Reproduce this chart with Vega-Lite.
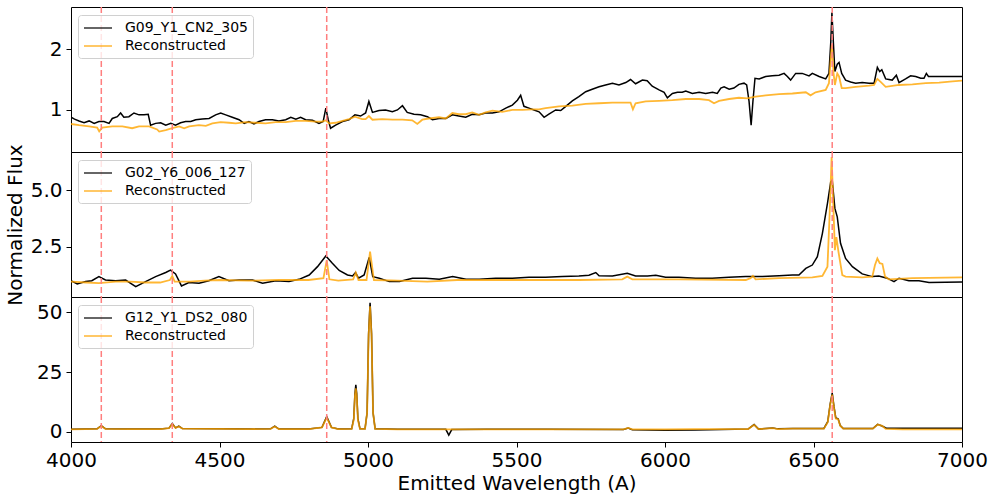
{
"$schema": "https://vega.github.io/schema/vega-lite/v6.json",
"background": "white",
"padding": {"left": 4, "top": 5, "right": 0, "bottom": 0},
"datasets": {
"hl": [{"w":4102},{"w":4341},{"w":4861},{"w":6563}],
"p1obs": [{"w":4000,"f":0.88},{"w":4012,"f":0.85},{"w":4027,"f":0.82},{"w":4044,"f":0.79},{"w":4061,"f":0.82},{"w":4078,"f":0.78},{"w":4094,"f":0.81},{"w":4111,"f":0.81},{"w":4128,"f":0.78},{"w":4139,"f":0.86},{"w":4156,"f":0.89},{"w":4167,"f":0.95},{"w":4178,"f":0.88},{"w":4195,"f":0.89},{"w":4212,"f":0.95},{"w":4229,"f":0.92},{"w":4246,"f":0.92},{"w":4260,"f":0.93},{"w":4268,"f":0.75},{"w":4285,"f":0.78},{"w":4302,"f":0.79},{"w":4319,"f":0.75},{"w":4336,"f":0.78},{"w":4352,"f":0.75},{"w":4369,"f":0.79},{"w":4386,"f":0.81},{"w":4403,"f":0.81},{"w":4420,"f":0.84},{"w":4442,"f":0.85},{"w":4465,"f":0.86},{"w":4487,"f":0.92},{"w":4504,"f":0.95},{"w":4521,"f":0.92},{"w":4543,"f":0.88},{"w":4566,"f":0.84},{"w":4583,"f":0.78},{"w":4599,"f":0.81},{"w":4616,"f":0.77},{"w":4633,"f":0.81},{"w":4655,"f":0.84},{"w":4678,"f":0.84},{"w":4700,"f":0.82},{"w":4723,"f":0.84},{"w":4740,"f":0.88},{"w":4757,"f":0.85},{"w":4773,"f":0.88},{"w":4790,"f":0.84},{"w":4813,"f":0.83},{"w":4835,"f":0.78},{"w":4849,"f":0.81},{"w":4858,"f":1.03},{"w":4866,"f":0.84},{"w":4874,"f":0.70},{"w":4891,"f":0.75},{"w":4914,"f":0.81},{"w":4936,"f":0.84},{"w":4956,"f":0.92},{"w":4975,"f":0.90},{"w":4992,"f":0.95},{"w":5003,"f":1.14},{"w":5015,"f":0.96},{"w":5037,"f":0.99},{"w":5059,"f":1.0},{"w":5082,"f":0.97},{"w":5099,"f":1.0},{"w":5116,"f":1.07},{"w":5132,"f":0.96},{"w":5155,"f":0.93},{"w":5177,"f":0.92},{"w":5200,"f":0.89},{"w":5217,"f":0.84},{"w":5239,"f":0.86},{"w":5262,"f":0.86},{"w":5284,"f":0.92},{"w":5306,"f":0.90},{"w":5329,"f":0.88},{"w":5351,"f":0.93},{"w":5374,"f":0.92},{"w":5396,"f":0.95},{"w":5419,"f":0.95},{"w":5441,"f":0.97},{"w":5464,"f":1.03},{"w":5486,"f":1.08},{"w":5503,"f":1.16},{"w":5514,"f":1.24},{"w":5525,"f":1.06},{"w":5542,"f":1.03},{"w":5559,"f":1.0},{"w":5576,"f":0.97},{"w":5593,"f":0.88},{"w":5609,"f":0.93},{"w":5632,"f":1.0},{"w":5649,"f":0.99},{"w":5666,"f":1.06},{"w":5688,"f":1.15},{"w":5710,"f":1.22},{"w":5733,"f":1.30},{"w":5755,"f":1.34},{"w":5778,"f":1.38},{"w":5800,"f":1.41},{"w":5823,"f":1.44},{"w":5845,"f":1.41},{"w":5868,"f":1.45},{"w":5884,"f":1.50},{"w":5901,"f":1.43},{"w":5924,"f":1.49},{"w":5940,"f":1.48},{"w":5957,"f":1.39},{"w":5980,"f":1.33},{"w":5997,"f":1.29},{"w":6008,"f":1.20},{"w":6025,"f":1.27},{"w":6042,"f":1.29},{"w":6058,"f":1.29},{"w":6070,"f":1.31},{"w":6092,"f":1.27},{"w":6115,"f":1.29},{"w":6137,"f":1.27},{"w":6160,"f":1.29},{"w":6176,"f":1.27},{"w":6188,"f":1.36},{"w":6199,"f":1.38},{"w":6216,"f":1.34},{"w":6232,"f":1.36},{"w":6249,"f":1.42},{"w":6266,"f":1.44},{"w":6275,"f":1.41},{"w":6283,"f":1.14},{"w":6290,"f":0.75},{"w":6296,"f":1.14},{"w":6303,"f":1.52},{"w":6317,"f":1.51},{"w":6339,"f":1.55},{"w":6361,"f":1.56},{"w":6384,"f":1.57},{"w":6401,"f":1.60},{"w":6412,"f":1.55},{"w":6423,"f":1.49},{"w":6440,"f":1.60},{"w":6462,"f":1.60},{"w":6485,"f":1.56},{"w":6496,"f":1.60},{"w":6519,"f":1.55},{"w":6541,"f":1.51},{"w":6552,"f":1.60},{"w":6558,"f":2.10},{"w":6562,"f":2.60},{"w":6567,"f":2.10},{"w":6572,"f":1.63},{"w":6580,"f":1.75},{"w":6586,"f":1.78},{"w":6595,"f":1.60},{"w":6608,"f":1.49},{"w":6625,"f":1.46},{"w":6642,"f":1.44},{"w":6664,"f":1.45},{"w":6687,"f":1.44},{"w":6704,"f":1.44},{"w":6715,"f":1.70},{"w":6723,"f":1.63},{"w":6730,"f":1.66},{"w":6743,"f":1.51},{"w":6765,"f":1.49},{"w":6779,"f":1.57},{"w":6788,"f":1.45},{"w":6810,"f":1.51},{"w":6827,"f":1.56},{"w":6844,"f":1.55},{"w":6861,"f":1.52},{"w":6872,"f":1.52},{"w":6880,"f":1.60},{"w":6887,"f":1.55},{"w":7000,"f":1.55}],
"p1rec": [{"w":4000,"f":0.77},{"w":4027,"f":0.75},{"w":4061,"f":0.73},{"w":4088,"f":0.71},{"w":4095,"f":0.65},{"w":4105,"f":0.71},{"w":4139,"f":0.73},{"w":4173,"f":0.73},{"w":4206,"f":0.70},{"w":4229,"f":0.73},{"w":4263,"f":0.73},{"w":4290,"f":0.68},{"w":4297,"f":0.645},{"w":4319,"f":0.67},{"w":4341,"f":0.70},{"w":4364,"f":0.73},{"w":4381,"f":0.70},{"w":4398,"f":0.73},{"w":4431,"f":0.75},{"w":4454,"f":0.74},{"w":4476,"f":0.78},{"w":4504,"f":0.80},{"w":4532,"f":0.79},{"w":4555,"f":0.78},{"w":4588,"f":0.80},{"w":4622,"f":0.79},{"w":4655,"f":0.78},{"w":4689,"f":0.80},{"w":4723,"f":0.80},{"w":4757,"f":0.82},{"w":4790,"f":0.82},{"w":4824,"f":0.81},{"w":4846,"f":0.81},{"w":4858,"f":0.83},{"w":4869,"f":0.78},{"w":4891,"f":0.79},{"w":4914,"f":0.82},{"w":4936,"f":0.85},{"w":4956,"f":0.89},{"w":4980,"f":0.85},{"w":4992,"f":0.85},{"w":5003,"f":0.90},{"w":5015,"f":0.84},{"w":5048,"f":0.85},{"w":5082,"f":0.84},{"w":5116,"f":0.84},{"w":5149,"f":0.83},{"w":5166,"f":0.77},{"w":5183,"f":0.84},{"w":5205,"f":0.86},{"w":5239,"f":0.88},{"w":5262,"f":0.86},{"w":5284,"f":0.95},{"w":5306,"f":0.93},{"w":5329,"f":0.93},{"w":5351,"f":0.96},{"w":5374,"f":0.92},{"w":5396,"f":0.96},{"w":5419,"f":0.99},{"w":5452,"f":0.97},{"w":5486,"f":1.0},{"w":5520,"f":1.0},{"w":5553,"f":1.01},{"w":5576,"f":1.01},{"w":5598,"f":1.03},{"w":5643,"f":1.06},{"w":5688,"f":1.07},{"w":5733,"f":1.10},{"w":5778,"f":1.11},{"w":5823,"f":1.12},{"w":5868,"f":1.12},{"w":5884,"f":1.12},{"w":5892,"f":1.01},{"w":5901,"f":1.11},{"w":5935,"f":1.14},{"w":5980,"f":1.15},{"w":6025,"f":1.16},{"w":6070,"f":1.18},{"w":6115,"f":1.18},{"w":6148,"f":1.16},{"w":6165,"f":1.11},{"w":6182,"f":1.15},{"w":6216,"f":1.18},{"w":6249,"f":1.20},{"w":6277,"f":1.19},{"w":6305,"f":1.22},{"w":6339,"f":1.24},{"w":6384,"f":1.26},{"w":6429,"f":1.27},{"w":6474,"f":1.29},{"w":6490,"f":1.24},{"w":6507,"f":1.29},{"w":6541,"f":1.33},{"w":6552,"f":1.44},{"w":6559,"f":1.90},{"w":6562,"f":2.07},{"w":6567,"f":1.63},{"w":6572,"f":1.41},{"w":6580,"f":1.60},{"w":6586,"f":1.55},{"w":6595,"f":1.36},{"w":6608,"f":1.36},{"w":6642,"f":1.38},{"w":6687,"f":1.40},{"w":6704,"f":1.41},{"w":6715,"f":1.51},{"w":6726,"f":1.46},{"w":6743,"f":1.38},{"w":6788,"f":1.41},{"w":6833,"f":1.42},{"w":6878,"f":1.44},{"w":6923,"f":1.45},{"w":6968,"f":1.47},{"w":7000,"f":1.48}],
"p2obs": [{"w":4000,"f":1.0},{"w":4021,"f":0.86},{"w":4049,"f":0.96},{"w":4070,"f":1.0},{"w":4094,"f":1.18},{"w":4116,"f":1.03},{"w":4150,"f":1.0},{"w":4184,"f":1.03},{"w":4218,"f":0.74},{"w":4251,"f":0.96},{"w":4285,"f":1.18},{"w":4319,"f":1.36},{"w":4335,"f":1.47},{"w":4352,"f":1.30},{"w":4372,"f":0.77},{"w":4397,"f":0.92},{"w":4431,"f":0.89},{"w":4464,"f":1.0},{"w":4498,"f":1.18},{"w":4532,"f":1.0},{"w":4566,"f":1.03},{"w":4611,"f":1.03},{"w":4645,"f":0.89},{"w":4690,"f":1.0},{"w":4734,"f":0.96},{"w":4768,"f":1.06},{"w":4802,"f":1.25},{"w":4830,"f":1.62},{"w":4858,"f":2.09},{"w":4880,"f":1.77},{"w":4903,"f":1.45},{"w":4931,"f":1.25},{"w":4948,"f":1.21},{"w":4958,"f":1.36},{"w":4968,"f":1.11},{"w":4987,"f":1.25},{"w":5004,"f":2.03},{"w":5016,"f":1.18},{"w":5038,"f":1.11},{"w":5072,"f":0.96},{"w":5106,"f":0.96},{"w":5150,"f":1.11},{"w":5195,"f":1.11},{"w":5240,"f":1.06},{"w":5285,"f":1.18},{"w":5330,"f":1.06},{"w":5374,"f":1.06},{"w":5430,"f":1.11},{"w":5486,"f":1.11},{"w":5542,"f":1.15},{"w":5598,"f":1.15},{"w":5654,"f":1.18},{"w":5710,"f":1.21},{"w":5744,"f":1.24},{"w":5767,"f":1.36},{"w":5778,"f":1.22},{"w":5823,"f":1.21},{"w":5873,"f":1.33},{"w":5901,"f":1.21},{"w":5941,"f":1.21},{"w":5969,"f":1.24},{"w":6002,"f":1.15},{"w":6047,"f":1.15},{"w":6103,"f":1.11},{"w":6159,"f":1.11},{"w":6215,"f":1.15},{"w":6272,"f":1.18},{"w":6328,"f":1.18},{"w":6384,"f":1.22},{"w":6429,"f":1.25},{"w":6451,"f":1.25},{"w":6474,"f":1.54},{"w":6496,"f":1.69},{"w":6513,"f":2.06},{"w":6530,"f":3.09},{"w":6547,"f":4.41},{"w":6558,"f":5.36},{"w":6563,"f":5.43},{"w":6572,"f":4.19},{"w":6580,"f":3.82},{"w":6591,"f":2.65},{"w":6608,"f":1.98},{"w":6631,"f":1.62},{"w":6664,"f":1.30},{"w":6698,"f":1.18},{"w":6720,"f":1.21},{"w":6748,"f":1.11},{"w":6771,"f":0.96},{"w":6788,"f":1.11},{"w":6821,"f":1.0},{"w":6855,"f":1.0},{"w":6889,"f":0.92},{"w":7000,"f":0.94}],
"p2rec": [{"w":4000,"f":0.96},{"w":4050,"f":0.92},{"w":4094,"f":0.89},{"w":4150,"f":0.96},{"w":4200,"f":0.96},{"w":4250,"f":0.92},{"w":4300,"f":0.92},{"w":4333,"f":1.03},{"w":4341,"f":1.21},{"w":4349,"f":0.96},{"w":4400,"f":0.96},{"w":4450,"f":1.0},{"w":4500,"f":1.03},{"w":4600,"f":1.0},{"w":4700,"f":1.03},{"w":4800,"f":1.03},{"w":4850,"f":1.11},{"w":4861,"f":1.9},{"w":4870,"f":1.06},{"w":4900,"f":1.0},{"w":4950,"f":1.06},{"w":4959,"f":1.36},{"w":4968,"f":1.03},{"w":4995,"f":1.03},{"w":5007,"f":2.28},{"w":5020,"f":1.03},{"w":5100,"f":1.0},{"w":5200,"f":0.96},{"w":5300,"f":1.03},{"w":5374,"f":1.03},{"w":5486,"f":1.03},{"w":5598,"f":1.03},{"w":5710,"f":1.03},{"w":5856,"f":1.06},{"w":5873,"f":1.18},{"w":5890,"f":1.06},{"w":6047,"f":1.06},{"w":6272,"f":1.03},{"w":6288,"f":1.11},{"w":6296,"f":1.21},{"w":6305,"f":1.06},{"w":6384,"f":1.11},{"w":6496,"f":1.15},{"w":6530,"f":1.21},{"w":6547,"f":1.62},{"w":6554,"f":3.82},{"w":6561,"f":6.46},{"w":6565,"f":5.0},{"w":6572,"f":2.35},{"w":6577,"f":2.92},{"w":6584,"f":2.28},{"w":6597,"f":1.25},{"w":6608,"f":1.18},{"w":6664,"f":1.15},{"w":6698,"f":1.18},{"w":6707,"f":1.69},{"w":6715,"f":1.98},{"w":6723,"f":1.77},{"w":6732,"f":1.74},{"w":6741,"f":1.18},{"w":6754,"f":1.06},{"w":6833,"f":1.11},{"w":7000,"f":1.15}],
"p3obs": [{"w":4000,"f":1.0},{"w":4050,"f":1.1},{"w":4088,"f":1.2},{"w":4102,"f":2.5},{"w":4116,"f":1.2},{"w":4200,"f":1.1},{"w":4300,"f":1.1},{"w":4330,"f":1.5},{"w":4341,"f":3.4},{"w":4352,"f":1.6},{"w":4363,"f":2.3},{"w":4375,"f":1.3},{"w":4500,"f":1.2},{"w":4600,"f":1.1},{"w":4672,"f":1.2},{"w":4686,"f":2.3},{"w":4700,"f":1.1},{"w":4800,"f":1.1},{"w":4845,"f":1.8},{"w":4861,"f":6.3},{"w":4877,"f":1.8},{"w":4900,"f":1.1},{"w":4945,"f":1.2},{"w":4952,"f":5.5},{"w":4956,"f":16},{"w":4959,"f":19.6},{"w":4962,"f":16},{"w":4966,"f":5.5},{"w":4973,"f":1.2},{"w":4990,"f":1.2},{"w":4997,"f":8},{"w":5002,"f":41},{"w":5007,"f":54},{"w":5012,"f":41},{"w":5017,"f":8},{"w":5024,"f":1.2},{"w":5100,"f":1.0},{"w":5200,"f":1.0},{"w":5262,"f":1.0},{"w":5272,"f":-1.4},{"w":5282,"f":0.9},{"w":5400,"f":1.0},{"w":5600,"f":1.0},{"w":5860,"f":0.9},{"w":5876,"f":1.5},{"w":5890,"f":0.8},{"w":6000,"f":0.6},{"w":6100,"f":0.7},{"w":6280,"f":1.1},{"w":6300,"f":3.0},{"w":6315,"f":1.1},{"w":6363,"f":1.6},{"w":6380,"f":1.2},{"w":6430,"f":1.4},{"w":6500,"f":1.4},{"w":6535,"f":1.4},{"w":6548,"f":4.2},{"w":6556,"f":11.5},{"w":6563,"f":16.2},{"w":6569,"f":10.5},{"w":6575,"f":5.8},{"w":6583,"f":5.4},{"w":6590,"f":2.6},{"w":6600,"f":1.3},{"w":6700,"f":1.3},{"w":6716,"f":3.1},{"w":6731,"f":2.4},{"w":6745,"f":1.5},{"w":6800,"f":1.5},{"w":7000,"f":1.5}],
"p3rec": [{"w":4000,"f":1.0},{"w":4050,"f":1.1},{"w":4088,"f":1.2},{"w":4102,"f":2.4},{"w":4116,"f":1.2},{"w":4200,"f":1.1},{"w":4300,"f":1.1},{"w":4330,"f":1.5},{"w":4341,"f":3.2},{"w":4352,"f":1.6},{"w":4363,"f":2.2},{"w":4375,"f":1.3},{"w":4500,"f":1.2},{"w":4600,"f":1.1},{"w":4672,"f":1.2},{"w":4686,"f":2.2},{"w":4700,"f":1.1},{"w":4800,"f":1.1},{"w":4845,"f":1.8},{"w":4861,"f":5.9},{"w":4877,"f":1.8},{"w":4900,"f":1.1},{"w":4945,"f":1.2},{"w":4952,"f":5},{"w":4956,"f":15},{"w":4959,"f":18.2},{"w":4962,"f":15},{"w":4966,"f":5},{"w":4973,"f":1.2},{"w":4990,"f":1.2},{"w":4997,"f":8},{"w":5002,"f":40},{"w":5007,"f":52.5},{"w":5012,"f":40},{"w":5017,"f":8},{"w":5024,"f":1.2},{"w":5100,"f":1.0},{"w":5200,"f":1.0},{"w":5300,"f":1.0},{"w":5400,"f":1.0},{"w":5600,"f":1.0},{"w":5860,"f":1.0},{"w":5876,"f":1.6},{"w":5890,"f":1.0},{"w":6000,"f":1.0},{"w":6100,"f":1.1},{"w":6280,"f":1.1},{"w":6300,"f":2.9},{"w":6315,"f":1.1},{"w":6363,"f":1.5},{"w":6380,"f":1.1},{"w":6430,"f":1.3},{"w":6500,"f":1.3},{"w":6535,"f":1.3},{"w":6548,"f":4},{"w":6556,"f":11},{"w":6563,"f":15.5},{"w":6569,"f":10},{"w":6575,"f":5.5},{"w":6583,"f":5.2},{"w":6590,"f":2.5},{"w":6600,"f":1.3},{"w":6700,"f":1.3},{"w":6716,"f":3.0},{"w":6731,"f":2.5},{"w":6743,"f":1.2},{"w":6800,"f":1.0},{"w":7000,"f":1.0}]
},
"spacing": 0,
"bounds": "flush",
"resolve": {"scale": {"color": "independent", "y": "independent", "x": "independent"}, "legend": {"color": "independent"}},
"vconcat": [
{
"width": 891, "height": 145,
"encoding": {"x": {"field": "w", "type": "quantitative", "scale": {"domain": [4000, 7000], "nice": false, "zero": false}, "axis": null}},
"layer": [
{"data": {"name": "p1obs"}, "mark": {"type": "line", "color": "#000000", "strokeWidth": 1.5, "clip": true},
 "encoding": {"y": {"field": "f", "type": "quantitative", "scale": {"domain": [0.31, 2.69], "nice": false, "zero": false}, "axis": {"values": [1, 2], "format": "d", "title": null}},
  "color": {"datum": "G09_Y1_CN2_305", "scale": {"domain": ["G09_Y1_CN2_305", "Reconstructed"], "range": ["#000000", "#FFA500"]}, "legend": {"orient": "none", "legendX": 7, "legendY": 8, "title": null}}}},
{"data": {"name": "p1rec"}, "mark": {"type": "line", "strokeWidth": 1.8, "opacity": 0.8, "clip": true},
 "encoding": {"y": {"field": "f", "type": "quantitative", "scale": {"domain": [0.31, 2.69], "nice": false, "zero": false}, "axis": {"values": [1, 2], "format": "d", "title": null}},
  "color": {"datum": "Reconstructed", "scale": {"domain": ["G09_Y1_CN2_305", "Reconstructed"], "range": ["#000000", "#FFA500"]}, "legend": {"orient": "none", "legendX": 7, "legendY": 8, "title": null}}}},
{"data": {"name": "hl"}, "mark": {"type": "rule", "color": "#ff7f7f", "strokeDash": [6, 3], "strokeWidth": 1.5}, "encoding": {}}
]
},
{
"width": 891, "height": 145,
"encoding": {"x": {"field": "w", "type": "quantitative", "scale": {"domain": [4000, 7000], "nice": false, "zero": false}, "axis": null}},
"layer": [
{"data": {"name": "p2obs"}, "mark": {"type": "line", "color": "#000000", "strokeWidth": 1.5, "clip": true},
 "encoding": {"y": {"field": "f", "type": "quantitative", "scale": {"domain": [0.28, 6.68], "nice": false, "zero": false}, "axis": {"values": [2.5, 5], "format": ".1f", "title": "Normalized Flux", "titlePadding": 5}},
  "color": {"datum": "G02_Y6_006_127", "scale": {"domain": ["G02_Y6_006_127", "Reconstructed"], "range": ["#000000", "#FFA500"]}, "legend": {"orient": "none", "legendX": 7, "legendY": 8, "title": null}}}},
{"data": {"name": "p2rec"}, "mark": {"type": "line", "strokeWidth": 1.8, "opacity": 0.8, "clip": true},
 "encoding": {"y": {"field": "f", "type": "quantitative", "scale": {"domain": [0.28, 6.68], "nice": false, "zero": false}, "axis": {"values": [2.5, 5], "format": ".1f", "title": "Normalized Flux", "titlePadding": 5}},
  "color": {"datum": "Reconstructed", "scale": {"domain": ["G02_Y6_006_127", "Reconstructed"], "range": ["#000000", "#FFA500"]}, "legend": {"orient": "none", "legendX": 7, "legendY": 8, "title": null}}}},
{"data": {"name": "hl"}, "mark": {"type": "rule", "color": "#ff7f7f", "strokeDash": [6, 3], "strokeWidth": 1.5}, "encoding": {}}
]
},
{
"width": 891, "height": 145,
"encoding": {"x": {"field": "w", "type": "quantitative", "scale": {"domain": [4000, 7000], "nice": false, "zero": false}, "axis": {"values": [4000, 4500, 5000, 5500, 6000, 6500, 7000], "format": "d", "title": "Emitted Wavelength (A)", "labelPadding": 3, "titlePadding": 3}}},
"layer": [
{"data": {"name": "p3obs"}, "mark": {"type": "line", "color": "#000000", "strokeWidth": 1.5, "clip": true},
 "encoding": {"y": {"field": "f", "type": "quantitative", "scale": {"domain": [-4.3, 56.4], "nice": false, "zero": false}, "axis": {"values": [0, 25, 50], "format": "d", "title": null}},
  "color": {"datum": "G12_Y1_DS2_080", "scale": {"domain": ["G12_Y1_DS2_080", "Reconstructed"], "range": ["#000000", "#FFA500"]}, "legend": {"orient": "none", "legendX": 7, "legendY": 8, "title": null}}}},
{"data": {"name": "p3rec"}, "mark": {"type": "line", "strokeWidth": 1.8, "opacity": 0.8, "clip": true},
 "encoding": {"y": {"field": "f", "type": "quantitative", "scale": {"domain": [-4.3, 56.4], "nice": false, "zero": false}, "axis": {"values": [0, 25, 50], "format": "d", "title": null}},
  "color": {"datum": "Reconstructed", "scale": {"domain": ["G12_Y1_DS2_080", "Reconstructed"], "range": ["#000000", "#FFA500"]}, "legend": {"orient": "none", "legendX": 7, "legendY": 8, "title": null}}}},
{"data": {"name": "hl"}, "mark": {"type": "rule", "color": "#ff7f7f", "strokeDash": [6, 3], "strokeWidth": 1.5}, "encoding": {}}
]
}
],
"config": {
"font": "DejaVu Sans",
"view": {"stroke": "#000000", "strokeWidth": 1},
"axis": {"grid": false, "domain": false, "labelFlush": false, "labelOverlap": false, "tickColor": "#000000", "tickSize": 5, "tickWidth": 1, "labelColor": "#000000", "labelFontSize": 20, "labelFont": "DejaVu Sans", "labelPadding": 4, "titleFont": "DejaVu Sans", "titleFontSize": 20, "titleFontWeight": "normal", "titleColor": "#000000"},
"legend": {"symbolType": "M-1,0H3", "symbolSize": 196, "symbolStrokeWidth": 1.5, "labelFontSize": 14, "labelFont": "DejaVu Sans", "labelColor": "#000000", "labelOffset": 26, "padding": 5, "fillColor": "rgba(255,255,255,0.8)", "strokeColor": "#d0d0d0", "cornerRadius": 3, "rowPadding": 3, "labelLimit": 300}
}
}
